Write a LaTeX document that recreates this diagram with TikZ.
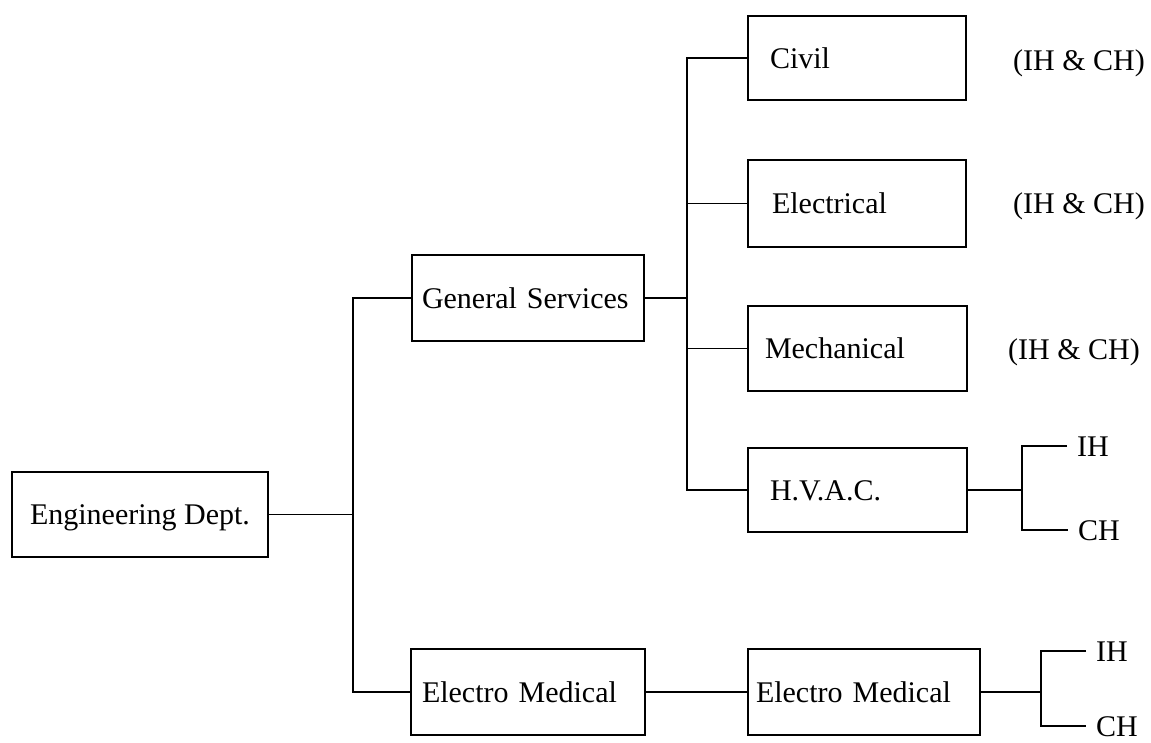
\documentclass[tikz,border=0pt]{standalone}
\usepackage{fontspec}
\setmainfont{Liberation Serif}
\begin{document}
\begin{tikzpicture}[x=1pt,y=-1pt,
  box/.style={draw, line width=1.6pt, text height=20pt, text depth=0pt, align=left,
              font=\fontsize{30}{36}\selectfont, inner ysep=0pt},
  lbl/.style={font=\fontsize{30}{36}\selectfont, text height=20pt, text depth=0pt,
              anchor=west, inner xsep=10pt, inner ysep=0pt},
  wire/.style={line width=1.3pt}]
\useasboundingbox (0,0) rectangle (1151,742);

% boxes
\node[box, align=center, minimum width=256pt, minimum height=85pt] (eng) at (140,514.5) {Engineering Dept.};
\node[box, text width=212pt, inner xsep=10pt, minimum height=86pt] (gs) at (528,298) {General Services};
\node[box, text width=212pt, inner xsep=11pt, minimum height=86pt] (em1) at (528,692) {Electro Medical};
\node[box, text width=174pt, inner xsep=22pt, minimum height=84pt] (civil) at (857,58) {Civil};
\node[box, text width=170pt, inner xsep=24pt, minimum height=87pt] (elec) at (857,203.5) {Electrical};
\node[box, text width=185pt, inner xsep=17pt, minimum height=85pt] (mech) at (857.5,348.5) {Mechanical};
\node[box, text width=175pt, inner xsep=22pt, minimum height=84pt] (hvac) at (857.5,490) {H.V.A.C.};
\node[box, text width=216pt, inner xsep=8pt, minimum height=86pt] (em2) at (864,692) {Electro Medical};

% side labels
\node[lbl] (l1) at (1003,60) {(IH \& CH)};
\node[lbl] (l2) at (1003,203) {(IH \& CH)};
\node[lbl] (l3) at (998,349) {(IH \& CH)};
\node[lbl] (ih1) at (1067,446) {IH};
\node[lbl] (ch1) at (1068,530) {CH};
\node[lbl] (ih2) at (1086,651) {IH};
\node[lbl] (ch2) at (1086,726) {CH};

% trunk coordinates
\coordinate (t1) at (353,0);
\coordinate (t2) at (687,0);
\coordinate (b1) at (1022,490);
\coordinate (b2) at (1041,692);

% connectors
\draw[wire] (eng.east) -- (eng.east -| t1);
\draw[wire] (gs.west) -- (gs.west -| t1) |- (em1.west);
\draw[wire] (em1.east) -- (em2.west);
\draw[wire] (gs.east) -- (gs.east -| t2);
\draw[wire] (civil.west) -- (civil.west -| t2) |- (hvac.west);
\draw[wire] (elec.west) -- (elec.west -| t2);
\draw[wire] (mech.west) -- (mech.west -| t2);
\draw[wire] (hvac.east) -- (b1);
\draw[wire] (ih1.west) -| (b1) |- (ch1.west);
\draw[wire] (em2.east) -- (b2);
\draw[wire] (ih2.west) -| (b2) |- (ch2.west);
\end{tikzpicture}
\end{document}
